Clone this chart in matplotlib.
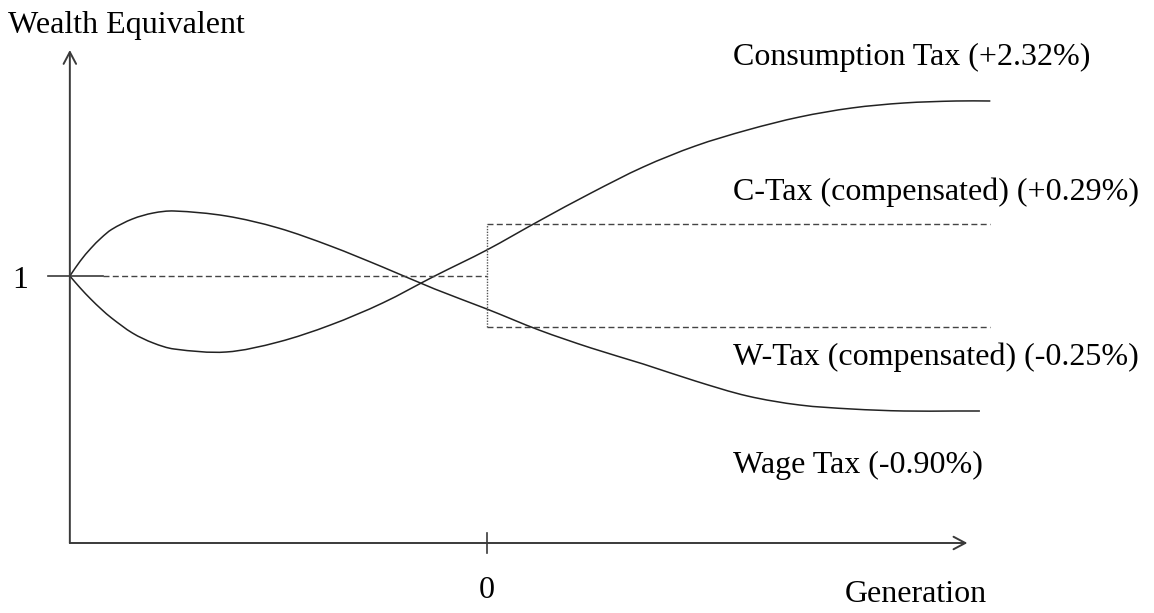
import matplotlib
matplotlib.use("Agg")
import matplotlib.pyplot as plt
from matplotlib.path import Path
from matplotlib.patches import PathPatch
import numpy as np

plt.rcParams['font.family'] = ['Liberation Serif', 'DejaVu Serif']

# generations (0 = reform generation)
gen = [-40, -39, -38, -37, -36, -34, -32, -30, -25, -20, -15, -10, -5,
       0, 5, 10, 15, 20, 25, 30, 35, 40, 45, 48]

# deviation of wealth equivalent from 1, in percent (schematic, not to scale)
wage_dev = [0, 0.30, 0.55, 0.76, 0.93, 1.14, 1.26, 1.30, 1.20, 0.96, 0.60, 0.18,
            -0.26, -0.66, -1.08, -1.44, -1.76, -2.10, -2.40, -2.58, -2.66,
            -2.70, -2.70, -2.70]
cons_dev = [0, -0.24, -0.46, -0.66, -0.84, -1.14, -1.34, -1.46, -1.52, -1.32,
            -0.98, -0.54, 0, 0.52, 1.10, 1.66, 2.18, 2.60, 2.92, 3.18, 3.36,
            3.46, 3.50, 3.50]
wage_last_gen = 47.3          # wage tax curve stops a bit earlier
cons_last_gen = 48.3

ctax_comp_dev = 1.04          # C-Tax (compensated) level
wtax_comp_dev = -1.02         # W-Tax (compensated) level

labels = ["Consumption Tax (+2.32%)", "C-Tax (compensated) (+0.29%)",
          "W-Tax (compensated) (-0.25%)", "Wage Tax (-0.90%)"]


def wealth(d):
    return 1 + np.asarray(d, dtype=float) / 100.0


def smooth_path(x, y):
    """Cubic Hermite bezier path through the read points (drawn, not resampled)."""
    x = np.asarray(x, float)
    y = np.asarray(y, float)
    n = len(x)
    m = np.zeros(n)
    m[0] = (y[1] - y[0]) / (x[1] - x[0])
    m[-1] = (y[-1] - y[-2]) / (x[-1] - x[-2])
    for i in range(1, n - 1):
        m[i] = (y[i + 1] - y[i - 1]) / (x[i + 1] - x[i - 1])
    verts = [(x[0], y[0])]
    codes = [Path.MOVETO]
    for i in range(n - 1):
        h = x[i + 1] - x[i]
        verts += [(x[i] + h / 3, y[i] + m[i] * h / 3),
                  (x[i + 1] - h / 3, y[i + 1] - m[i + 1] * h / 3),
                  (x[i + 1], y[i + 1])]
        codes += [Path.CURVE4] * 3
    return Path(verts, codes)


fig = plt.figure(figsize=(11.54, 6.13), dpi=100)
ax = fig.add_axes([0, 0, 1, 1])
ax.set_xlim(-46.7, 64.0)
ax.set_ylim(0.9326, 1.0552)
ax.axis('off')

line_col = '#222222'
axis_col = '#3a3a3a'
dash_col = '#444444'
fs = 23

# curves
wg = list(gen[:-1]) + [wage_last_gen]
cg = list(gen[:-1]) + [cons_last_gen]
for gx, dv in ((wg, wage_dev), (cg, cons_dev)):
    ax.add_patch(PathPatch(smooth_path(gx, wealth(dv)), fill=False,
                           edgecolor=line_col, lw=1.1))

# baseline at 1: short solid piece then dashed up to generation 0
ax.plot([-42.1, -36.8], [1, 1], color=axis_col, lw=1.2)
ax.plot([-36.8, 0], [1, 1], color=dash_col, lw=1.0, linestyle=(0, (4.3, 2.4)))

# compensated levels
ax.plot([0, cons_last_gen], wealth([ctax_comp_dev] * 2), color=dash_col, lw=1.0,
        linestyle=(0, (4.3, 2.4)))
ax.plot([0, cons_last_gen], wealth([wtax_comp_dev] * 2), color=dash_col, lw=1.0,
        linestyle=(0, (4.3, 2.4)))
ax.plot([0, 0], wealth([wtax_comp_dev, ctax_comp_dev]), color='#555555', lw=1.0,
        linestyle=(0, (1, 1)))

# axes with open arrow heads
y_ax0 = wealth(-5.34)
arrow = dict(arrowstyle='->,head_length=0.85,head_width=0.45', lw=1.4,
             color=axis_col, shrinkA=0, shrinkB=0)
ax.annotate('', xy=(-40, wealth(4.52)), xytext=(-40, y_ax0), arrowprops=arrow)
ax.annotate('', xy=(46.1, y_ax0), xytext=(-40, y_ax0), arrowprops=arrow)
ax.plot([0, 0], wealth([-5.14, -5.54]), color=axis_col, lw=1.2)

# text
ax.text(-45.95, wealth(4.86), "Wealth Equivalent", fontsize=fs, va='baseline')
ax.text(-44.8, wealth(-0.10), "1", fontsize=fs, ha='center', va='center')
ax.text(0, wealth(-6.30), "0", fontsize=fs, ha='center', va='center')
ax.text(34.3, wealth(-6.38), "Generation", fontsize=fs, ha='left', va='center')

lab_x = 23.6
lab_y = [4.38, 1.68, -1.62, -3.78]
for s, d in zip(labels, lab_y):
    ax.text(lab_x, wealth(d), s, fontsize=fs, ha='left', va='center')

fig.savefig("out.png", dpi=100)
